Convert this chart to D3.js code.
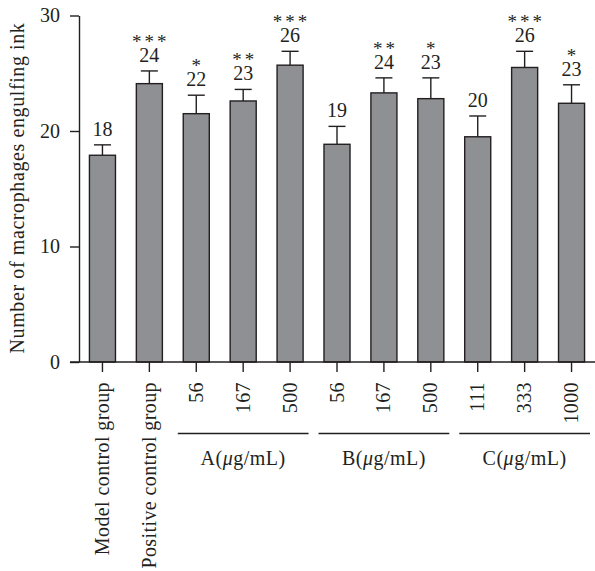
<!DOCTYPE html>
<html>
<head>
<meta charset="utf-8">
<script src="https://cdn.jsdelivr.net/npm/d3@7"></script>
<style>
  html, body { margin: 0; padding: 0; background: #fff; }
  text { font-family: "Liberation Serif", "DejaVu Serif", serif; fill: #231f20; }
</style>
</head>
<body>
<div id="chart"></div>
<script>
const categories = ["Model control group", "Positive control group", "56", "167", "500", "56", "167", "500", "111", "333", "1000"];
const means = [17.9, 24.1, 21.5, 22.6, 25.7, 18.85, 23.3, 22.8, 19.5, 25.5, 22.4];
const errors = [0.9, 1.1, 1.6, 1.0, 1.2, 1.55, 1.3, 1.8, 1.8, 1.4, 1.6];
const valueLabels = ["18", "24", "22", "23", "26", "19", "24", "23", "20", "26", "23"];
const stars = ["", "***", "*", "**", "***", "", "**", "*", "", "***", "*"];
const groupNames = ["A", "B", "C"];
const groupFirst = [2, 5, 8];
const groupLast = [4, 7, 10];
const yTicks = [0, 10, 20, 30];

const W = 595, H = 571;
const ink = "#231f20";

const svg = d3.select('#chart')
  .append('svg')
  .attr('width', W)
  .attr('height', H);

const idx = categories.map((d, i) => i);

const x = d3.scaleBand()
  .domain(idx)
  .range([79, 595])
  .paddingInner(0.445)
  .paddingOuter(0.2225);

const y = d3.scaleLinear()
  .domain([0, 30])
  .range([362, 15.5]);

const step = x.step();
const cx = i => x(i) + x.bandwidth() / 2;

// bars
svg.selectAll('.bar')
  .data(idx)
  .enter()
  .append('rect')
  .attr('class', 'bar')
  .attr('x', i => x(i))
  .attr('y', i => y(means[i]))
  .attr('width', x.bandwidth())
  .attr('height', i => y(0) - y(means[i]))
  .attr('fill', '#8f9094')
  .attr('stroke', ink)
  .attr('stroke-width', 1.4);

// error bars (upper only)
const errG = svg.append('g').attr('stroke', ink).attr('stroke-width', 1.4);
idx.forEach(i => {
  const top = y(means[i] + errors[i]);
  errG.append('line')
    .attr('x1', cx(i)).attr('x2', cx(i))
    .attr('y1', y(means[i])).attr('y2', top);
  errG.append('line')
    .attr('x1', cx(i) - 8.5).attr('x2', cx(i) + 8.5)
    .attr('y1', top).attr('y2', top);
});

// value labels + stars
idx.forEach(i => {
  const base = y(means[i] + errors[i]) - 9;
  svg.append('text')
    .attr('x', cx(i))
    .attr('y', base)
    .attr('text-anchor', 'middle')
    .style('font-size', '20px')
    .text(valueLabels[i]);
  if (stars[i]) {
    svg.append('text')
      .attr('x', cx(i) + 1.5)
      .attr('y', base - 14)
      .attr('text-anchor', 'middle')
      .style('font-size', '19px')
      .style('letter-spacing', '3px')
      .text(stars[i]);
  }
});

// y axis
const yAxis = svg.append('g')
  .attr('transform', 'translate(79,0)')
  .call(d3.axisLeft(y).tickValues(yTicks).tickSize(9).tickSizeOuter(0).tickPadding(10));
yAxis.selectAll('path, line').attr('stroke', ink).attr('stroke-width', 1.4);
yAxis.selectAll('text')
  .style('font-family', '"Liberation Serif", serif')
  .style('font-size', '20px')
  .attr('fill', ink);

// x axis
const xAxis = svg.append('g')
  .attr('transform', `translate(0,${y(0)})`)
  .call(d3.axisBottom(x).tickSize(10).tickSizeOuter(0).tickFormat(''));
xAxis.select('.domain').remove();
xAxis.selectAll('line').attr('stroke', ink).attr('stroke-width', 1.4);
svg.append('line')
  .attr('x1', 70).attr('x2', 595)
  .attr('y1', y(0)).attr('y2', y(0))
  .attr('stroke', ink).attr('stroke-width', 1.4);

// category labels, rotated
svg.selectAll('.cat')
  .data(idx)
  .enter()
  .append('text')
  .attr('class', 'cat')
  .attr('transform', i => `translate(${cx(i) + 6.5},${y(0) + 20}) rotate(-90)`)
  .attr('text-anchor', 'end')
  .style('font-size', '20px')
  .style('letter-spacing', '0.4px')
  .text(i => categories[i]);

// group underlines and names
groupNames.forEach((g, k) => {
  const left = cx(groupFirst[k]) - step / 2 + 5;
  const right = cx(groupLast[k]) + step / 2 - 5;
  svg.append('line')
    .attr('x1', left).attr('x2', right)
    .attr('y1', 433.5).attr('y2', 433.5)
    .attr('stroke', ink).attr('stroke-width', 1.4);
  const t = svg.append('text')
    .attr('x', (left + right) / 2)
    .attr('y', 465)
    .attr('text-anchor', 'middle')
    .style('font-size', '20px')
    .style('letter-spacing', '0.5px');
  t.append('tspan').text(g + '(');
  t.append('tspan').style('font-style', 'italic').text('μ');
  t.append('tspan').text('g/mL)');
});

// y axis title
svg.append('text')
  .attr('transform', 'translate(24,188) rotate(-90)')
  .attr('text-anchor', 'middle')
  .style('font-size', '20px')
  .style('letter-spacing', '0.6px')
  .text('Number of macrophages engulfing ink');
</script>
</body>
</html>
